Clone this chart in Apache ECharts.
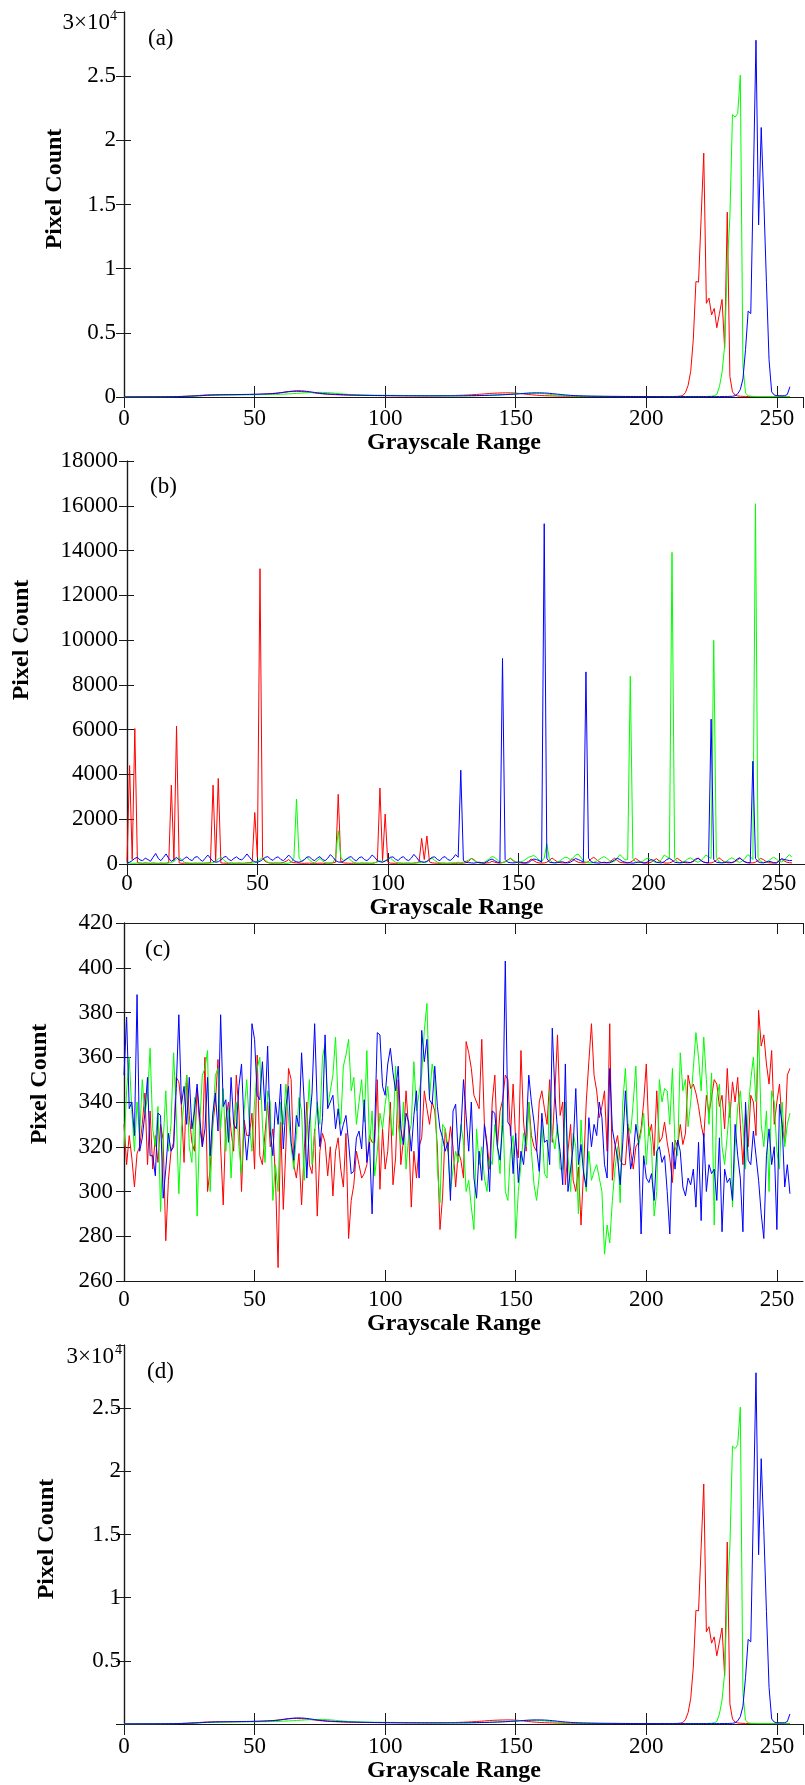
<!DOCTYPE html>
<html>
<head>
<meta charset="utf-8">
<script src="https://cdn.jsdelivr.net/npm/echarts@6/dist/echarts.min.js"></script>
<style>
  html, body { margin: 0; padding: 0; background: #fff; }
  #chart { width: 805px; height: 1785px; }
</style>
</head>
<body>
<div id="chart"></div>
<script>
// (a) and (d): histogram of the original image
const redA = [
  12,10,11,13,12,14,15,13,16,18,17,19,20,22,21,24,26,28,30,33,
  36,40,45,52,60,70,82,96,110,124,138,150,160,168,174,178,180,181,180,179,
  178,178,179,180,182,185,188,192,196,200,205,210,216,224,234,246,260,276,294,314,
  340,365,390,410,425,435,440,436,426,410,390,366,340,314,290,268,248,230,214,200,
  190,180,172,164,158,152,146,141,136,132,128,124,121,118,115,112,110,108,106,104,
  102,100,99,98,97,96,95,95,94,94,93,93,92,92,92,93,93,94,95,96,
  98,100,102,105,108,112,116,121,127,134,142,151,161,172,184,197,211,226,242,258,
  272,285,296,305,312,318,322,324,322,316,304,286,264,240,216,194,174,156,140,126,
  114,104,96,89,83,78,74,70,67,64,62,60,58,56,55,54,53,52,51,50,
  49,48,47,46,45,45,44,44,43,43,42,42,41,41,40,40,40,39,39,39,
  38,38,38,37,37,37,36,36,36,36,38,42,50,70,
  120,350,900,2000,4500,9000,8950,14000,19000,7300,7700,6400,6900,5400,6500,7600,3800,14400,1600,400,
  150,80,60,50,45,40,40,38,36,35,34,34,33,33,32,40,60,80,60,40,30,30
];
const greenA = [
  8,8,9,9,10,10,11,11,12,12,13,14,15,16,17,18,20,22,24,27,
  30,34,38,43,49,56,64,73,82,92,102,111,120,128,135,141,146,150,153,156,
  158,160,162,164,166,168,170,172,174,176,178,180,182,184,187,190,194,198,203,209,
  216,224,233,243,254,266,279,292,305,318,330,340,348,354,358,360,358,352,342,328,
  310,290,270,250,232,216,202,190,180,172,165,159,154,150,146,143,140,138,136,134,
  132,130,128,126,124,122,120,118,116,114,112,111,110,109,108,107,106,105,104,103,
  102,101,100,99,98,97,96,95,95,95,96,97,98,100,102,105,108,112,117,123,
  130,138,147,157,168,180,193,207,221,235,249,262,274,284,292,298,301,300,294,284,
  270,252,232,210,188,168,150,134,120,108,98,89,82,76,71,67,63,60,57,55,
  53,51,49,48,47,46,45,44,43,42,41,41,40,40,39,39,38,38,37,37,
  36,36,36,35,35,35,34,34,34,34,33,33,33,33,32,32,32,32,32,32,
  33,34,36,40,48,60,100,200,800,1900,4000,10200,14000,22000,21800,22100,25080,2400,300,100,
  60,50,45,40,38,36,35,34,33,32,32,32,31,31,30,30
];
const blueA = [
  10,10,11,11,12,12,13,13,14,14,15,16,17,18,19,20,22,24,26,29,
  32,36,41,47,54,62,71,81,92,103,114,125,135,144,152,159,165,170,174,178,
  181,184,187,190,193,196,199,202,205,208,212,216,221,227,234,243,254,267,282,299,
  330,360,390,420,446,466,478,480,474,460,440,414,384,352,320,292,270,252,236,224,
  216,205,195,186,178,170,163,156,150,145,140,136,132,128,125,122,119,117,115,113,
  111,109,107,105,103,101,99,98,97,96,95,94,93,92,92,91,91,90,90,90,
  90,89,89,89,89,90,90,91,92,93,94,96,98,101,104,108,112,117,122,128,
  134,141,148,156,164,173,182,192,203,215,228,242,257,272,287,300,311,318,322,323,
  320,312,300,284,265,244,222,200,180,161,144,129,116,105,95,87,80,74,69,65,
  61,58,55,53,51,49,47,46,45,44,43,42,41,40,40,39,39,38,38,37,
  37,36,36,36,35,35,35,34,34,34,34,33,33,33,33,32,32,32,32,32,
  32,32,32,32,32,33,33,33,34,35,38,42,48,55,100,250,580,1400,3700,6700,
  6500,17000,27800,13400,21000,15300,8900,2900,400,150,100,90,90,100,200,800
];

// (b): histogram with periodic spikes
const redB = [
  100,4400,200,6050,60,40,30,50,35,30,45,30,25,40,30,35,
  60,3520,150,6160,50,30,40,35,30,25,40,30,35,30,40,45,
  60,3520,120,3820,50,40,35,30,45,30,35,40,30,35,50,60,
  80,2300,300,13190,250,120,60,40,35,50,40,45,70,120,200,90,
  60,50,40,35,30,35,40,30,35,30,40,35,30,40,35,50,
  80,3110,100,50,40,35,30,40,35,30,45,30,40,35,30,50,
  100,3390,150,2230,80,40,35,30,40,35,30,40,35,30,40,60,
  90,1145,200,1250,90,50,40,35,30,40,35,30,40,35,30,40,
  35,40,60,120,250,200,90,50,40,35,50,60,120,80,50,40,
  60,100,180,260,150,90,60,50,40,60,120,220,150,80,50,40,
  50,80,160,270,180,100,60,50,50,80,150,230,140,80,60,50,
  60,110,230,300,200,110,60,50,50,90,170,260,160,80,60,50,
  40,80,150,250,170,90,50,40,50,80,160,240,150,80,50,40,
  50,90,170,260,170,90,60,50,60,100,180,270,180,90,60,50,
  50,90,160,280,190,100,60,50,60,100,170,260,170,90,60,50,
  50,80,160,250,200,120,60,50,40,70,130,210,140,80,60,50
];
const greenB = [
  30,40,35,30,40,35,30,40,35,30,40,35,30,40,35,30,
  40,60,120,220,300,180,80,50,40,35,30,40,35,30,40,35,
  40,60,120,220,310,180,90,50,40,35,30,40,35,30,40,35,
  40,60,110,200,300,170,80,50,40,35,30,40,35,30,40,80,
  250,2900,260,120,180,300,170,80,60,150,250,140,60,40,50,70,
  280,1490,300,150,220,260,140,70,40,35,30,40,35,30,40,60,
  90,150,100,140,230,270,160,80,50,40,35,30,40,35,30,40,
  60,80,60,90,200,260,160,80,50,40,35,30,40,50,60,80,
  60,80,120,180,250,160,90,60,50,80,150,250,330,300,180,90,
  70,90,160,250,180,100,60,80,140,220,300,340,380,300,180,120,
  260,900,200,80,60,80,140,230,300,280,200,260,400,450,300,150,
  80,60,50,70,120,200,280,330,250,160,90,120,250,420,320,180,
  200,8390,250,100,60,80,140,230,260,180,100,60,100,200,400,330,
  250,13920,260,90,60,70,130,220,280,200,120,80,140,250,400,320,
  250,9990,300,100,60,70,130,220,280,200,110,70,130,250,420,340,
  200,16090,300,110,70,80,140,230,300,220,130,90,160,300,420,300
];
const blueB = [
  40,80,150,250,300,180,150,260,200,120,300,470,250,150,300,450,
  250,120,200,300,180,150,250,320,200,150,300,330,200,120,260,400,
  250,120,80,100,180,300,340,200,150,250,320,220,180,300,450,300,
  160,100,80,120,200,300,330,220,160,280,320,200,150,260,400,280,
  150,100,80,120,200,310,320,200,150,270,330,200,150,260,420,300,
  150,90,80,120,200,300,330,200,140,280,320,200,150,250,400,300,
  150,100,80,130,200,300,320,210,150,280,330,200,150,260,430,300,
  140,100,80,120,210,300,320,200,150,290,330,200,160,260,420,300,
  4190,150,80,60,50,40,60,80,60,40,100,180,220,150,80,60,
  9180,200,80,60,50,60,90,80,50,40,60,160,220,200,150,80,
  15200,250,80,60,50,60,90,100,60,50,80,150,250,200,150,80,
  8580,260,100,60,50,40,60,80,60,50,100,180,260,200,120,80,
  60,50,40,60,90,80,50,60,120,200,160,80,60,50,100,200,
  250,180,80,60,50,60,90,80,60,120,220,250,160,90,60,50,
  6470,200,80,60,50,60,90,80,60,120,220,280,170,90,60,50,
  4590,250,100,60,50,80,120,100,60,40,120,240,200,180,150,160
];

// (c): flat, noisy histogram
const redC = [
  330,312,325,315,302,317,320,330,344,312,336,310,325,313,330,323,
  278,305,318,322,351,349,338,313,352,334,322,318,346,329,320,360,
  300,310,330,340,359,320,294,332,340,327,318,352,336,300,332,325,
  325,335,310,361,316,312,326,340,320,328,306,266,331,292,320,355,
  350,312,306,317,294,318,340,312,308,328,289,318,326,322,307,320,
  298,318,324,310,302,326,279,296,303,318,312,306,308,312,325,322,
  322,350,301,328,310,318,340,303,315,350,312,323,345,328,293,318,
  306,320,324,345,337,330,340,336,320,283,298,328,318,329,320,302,
  318,314,306,367,362,355,343,340,337,368,330,322,310,340,352,320,
  336,341,352,350,325,348,322,315,363,331,318,340,325,320,318,340,
  345,337,330,350,322,344,370,334,340,303,318,330,305,300,311,285,
  310,340,358,375,352,345,333,338,345,318,375,305,320,325,314,312,
  312,330,318,310,320,322,328,340,357,325,330,316,345,322,324,331,
  322,315,304,323,320,330,321,326,352,346,348,344,338,330,324,343,
  335,342,350,348,338,343,328,355,333,349,340,351,330,312,335,320,
  343,340,325,381,365,370,357,348,363,330,340,348,330,322,352,355
];
const greenC = [
  320,345,360,336,318,340,325,350,335,342,364,328,320,338,291,322,
  345,318,330,362,335,299,328,340,352,320,313,342,289,330,352,355,
  363,300,330,352,355,328,346,318,337,306,330,340,320,308,336,350,
  330,318,340,355,360,330,313,345,340,296,312,300,340,330,348,333,
  320,310,325,342,336,305,330,350,312,326,340,330,360,366,338,345,
  352,369,340,330,356,361,368,345,351,330,340,350,331,363,320,336,
  307,318,335,328,339,347,333,325,356,330,321,340,310,325,330,358,
  336,344,352,372,384,342,357,350,310,295,330,328,320,300,310,318,
  313,330,322,300,305,293,283,328,312,320,306,300,315,312,330,320,
  308,340,300,296,318,325,279,300,312,326,320,340,318,303,296,307,
  330,308,306,345,325,319,330,310,310,340,316,300,326,320,290,332,
  310,300,318,305,309,312,306,300,272,285,277,296,310,320,295,340,
  355,330,326,340,356,320,326,335,312,329,320,289,300,350,340,346,
  345,330,355,320,316,362,345,350,329,340,355,371,360,345,369,350,
  330,353,285,342,348,320,312,325,340,293,320,338,345,330,310,336,
  350,360,340,372,330,320,336,300,345,340,318,310,340,320,330,335
];
const blueC = [
  352,378,337,340,325,388,318,324,335,351,316,316,307,335,334,297,
  310,326,318,320,346,379,339,347,330,351,328,336,348,333,320,328,
  351,316,335,344,327,379,338,341,322,351,330,328,347,357,329,314,
  327,375,368,343,341,358,336,365,327,316,340,330,348,319,338,347,
  322,314,334,329,362,340,306,330,344,375,338,320,333,370,337,340,
  343,328,337,325,330,334,322,308,309,324,327,319,341,313,322,290,
  328,371,370,347,343,357,364,353,345,356,328,321,335,331,318,334,
  345,306,372,358,368,341,339,356,338,328,324,318,322,296,336,339,
  316,327,350,334,318,340,306,297,318,305,330,320,300,336,335,320,
  314,330,403,331,329,308,326,304,318,312,327,352,340,331,319,309,
  335,322,323,312,373,344,327,318,303,357,300,310,320,346,312,321,
  308,302,333,320,330,325,340,333,312,306,355,328,321,315,303,322,
  345,325,310,316,330,322,281,316,306,304,308,296,318,320,313,316,
  300,281,322,310,323,318,302,298,306,303,310,293,322,287,326,300,
  312,308,310,296,324,282,310,304,306,296,330,316,306,282,340,314,
  312,327,316,305,290,279,316,328,312,320,283,339,330,302,312,299
];

const xTicks = { min: 0, max: 260, interval: 50 };
const panelLetters = ['(a)', '(b)', '(c)', '(d)'];

const FONT = '"Liberation Serif", "Times New Roman", "DejaVu Serif", serif';
const AXIS = '#1a1a1a';

// panel boxes
const panels = [
  { left: 124, top: 12, width: 679, height: 385, y: [0, 30000, 5000], data: [redA, greenA, blueA],
    yMargin: 8, xMargin: 10, nameGap: 31, sci: true, hideZero: false },
  { left: 127, top: 461, width: 679, height: 403, y: [0, 18000, 2000], data: [redB, greenB, blueB],
    yMargin: 9, xMargin: 8, nameGap: 30, sci: false, hideZero: false },
  { left: 124, top: 923, width: 679, height: 358, y: [260, 420, 20], data: [redC, greenC, blueC],
    yMargin: 11, xMargin: 7, nameGap: 31, sci: false, hideZero: false },
  { left: 124, top: 1345, width: 679, height: 379, y: [0, 30000, 5000], data: [redA, greenA, blueA],
    yMargin: 3, xMargin: 11, nameGap: 33, sci: true, hideZero: true }
];
const colors = ['#ff0000', '#00ff00', '#0000ff'];

const grid = [], xAxis = [], yAxis = [], series = [];

panels.forEach((p, i) => {
  grid.push({ left: p.left, top: p.top, width: p.width, height: p.height });
  const line = { show: true, lineStyle: { color: AXIS, width: 1.2 } };
  xAxis.push({
    type: 'value', gridIndex: i, position: 'bottom', min: xTicks.min, max: xTicks.max, interval: xTicks.interval,
    axisLine: line, splitLine: { show: false },
    axisTick: { inside: true, length: 11, lineStyle: { color: AXIS } },
    axisLabel: { margin: p.xMargin, fontFamily: FONT, fontSize: 23, color: '#000', showMaxLabel: false },
    name: 'Grayscale Range', nameLocation: 'middle', nameGap: p.nameGap,
    nameTextStyle: { fontFamily: FONT, fontSize: 24, fontWeight: 'bold', color: '#000', padding: [0, 19, 0, 0] }
  });
  xAxis.push({
    type: 'value', gridIndex: i, position: 'top', min: xTicks.min, max: xTicks.max, interval: xTicks.interval,
    axisLine: line, splitLine: { show: false },
    axisTick: { inside: true, length: 11, lineStyle: { color: AXIS } },
    axisLabel: { show: false }
  });
  yAxis.push({
    type: 'value', gridIndex: i, position: 'left', min: p.y[0], max: p.y[1], interval: p.y[2],
    axisLine: line, splitLine: { show: false },
    axisTick: { inside: true, length: 7, lineStyle: { color: AXIS } },
    axisLabel: {
      margin: p.yMargin, fontFamily: FONT, fontSize: 23, color: '#000',
      showMaxLabel: !p.sci, showMinLabel: !p.hideZero,
      formatter: v => p.sci ? String(v / 10000) : String(v)
    }
  });
  yAxis.push({
    type: 'value', gridIndex: i, position: 'right', min: p.y[0], max: p.y[1], interval: p.y[2],
    axisLine: line, splitLine: { show: false },
    axisTick: { inside: true, length: 8, lineStyle: { color: AXIS } },
    axisLabel: { show: false }
  });
  p.data.forEach((arr, k) => {
    series.push({
      type: 'line', xAxisIndex: i * 2, yAxisIndex: i * 2,
      data: arr.map((v, x) => [x, v]),
      showSymbol: false, symbol: 'none', animation: false,
      lineStyle: { color: colors[k], width: 1 }, itemStyle: { color: colors[k] }
    });
  });
});

// texts that are not axis labels: y titles, panel letters, the x10^4 multipliers
const graphic = [];
const yTitlePos = [[55, 189], [22, 640], [40, 1084], [47, 1539]];
yTitlePos.forEach(([x, y]) => {
  graphic.push({
    type: 'text', x: x, y: y, rotation: Math.PI / 2,
    style: { text: 'Pixel Count', fontFamily: FONT, fontSize: 24, fontWeight: 'bold', fill: '#000', align: 'center', verticalAlign: 'middle' }
  });
});
const letterPos = [[148, 39], [150, 487], [145, 950], [147, 1372]];
letterPos.forEach(([x, y], i) => {
  graphic.push({
    type: 'text', x: x, y: y,
    style: { text: panelLetters[i], fontFamily: FONT, fontSize: 23, fill: '#000', align: 'left', verticalAlign: 'middle' }
  });
});
[[110, 23, 117, 16], [114, 1357, 122, 1350]].forEach(([x, y, sx, sy]) => {
  graphic.push({
    type: 'text', x: x, y: y,
    style: { text: '3×10', fontFamily: FONT, fontSize: 23, fill: '#000', align: 'right', verticalAlign: 'middle' }
  });
  graphic.push({
    type: 'text', x: sx, y: sy,
    style: { text: '4', fontFamily: FONT, fontSize: 14, fill: '#000', align: 'right', verticalAlign: 'middle' }
  });
});

const chart = echarts.init(document.getElementById('chart'), null, { renderer: 'canvas' });
chart.setOption({
  animation: false,
  backgroundColor: '#fff',
  grid: grid,
  xAxis: xAxis,
  yAxis: yAxis,
  series: series,
  graphic: graphic
});
</script>
</body>
</html>
